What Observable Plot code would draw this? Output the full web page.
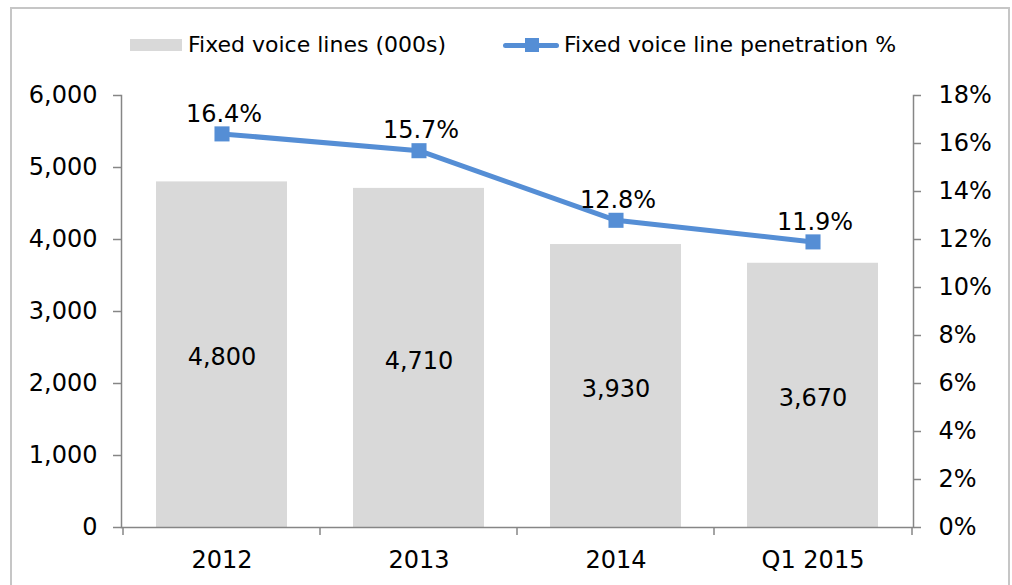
<!DOCTYPE html>
<html>
<head>
<meta charset="utf-8">
<script src="https://cdn.jsdelivr.net/npm/d3@7"></script>
<script src="https://cdn.jsdelivr.net/npm/@observablehq/plot@0.6"></script>
<style>
  html, body { margin: 0; padding: 0; background: #fff; }
  #wrap { position: relative; width: 1012px; height: 585px; overflow: hidden; font-family: "DejaVu Sans", Verdana, sans-serif; color: #000; }
  #border { position: absolute; left: 10px; top: 7px; width: 1000px; height: 600px; border: 2px solid #c6c6c6; box-sizing: border-box; }
  #legend { position: relative; height: 90px; font-size: 22px; }
  .lg-text { position: absolute; top: 32px; line-height: 26px; white-space: nowrap; }
  #chart { position: relative; }
  #chart svg { display: block; }
</style>
</head>
<body>
<div id="wrap">
  <div id="border"></div>
  <div id="legend">
    <div style="position:absolute;left:130px;top:39px;width:52px;height:12px;background:#d9d9d9"></div>
    <div class="lg-text" style="left:188px">Fixed voice lines (000s)</div>
    <div style="position:absolute;left:503px;top:42.5px;width:56px;height:5px;background:#558ED5;border-radius:2.5px"></div>
    <div style="position:absolute;left:525px;top:38px;width:14px;height:14px;background:#558ED5"></div>
    <div class="lg-text" style="left:564px">Fixed voice line penetration %</div>
  </div>
  <div id="chart"></div>
</div>
<script>
const categories = ["2012", "2013", "2014", "Q1 2015"];
const fixedLines = [4800, 4710, 3930, 3670];
const penetration = [16.4, 15.7, 12.8, 11.9];
const leftTicks = [0, 1000, 2000, 3000, 4000, 5000, 6000];
const rightTicks = [0, 2, 4, 6, 8, 10, 12, 14, 16, 18];

const yMax = 6000, pMax = 18;
const k = yMax / pMax;
const data = categories.map((c, i) => ({cat: c, lines: fixedLines[i], pct: penetration[i]}));

const W = 1012, mL = 121, mR = 99;
const half = (W - mL - mR) / categories.length / 2;
const axisColor = "#868686";
const blue = "#558ED5";
const fs = 24;

const chart = Plot.plot({
  width: W,
  height: 495,
  marginTop: 5,
  marginBottom: 58,
  marginLeft: mL,
  marginRight: mR,
  style: {fontFamily: "'DejaVu Sans', Verdana, sans-serif", fontSize: fs + "px", color: "#000", background: "transparent", overflow: "visible"},
  x: {domain: categories, paddingInner: 0.333, paddingOuter: 0.1667, axis: null},
  y: {domain: [0, yMax], axis: null},
  marks: [
    Plot.barY(data, {x: "cat", y: "lines", fill: "#d9d9d9"}),
    Plot.text(data, {x: "cat", y: d => d.lines / 2, text: d => d3.format(",")(d.lines), dy: 3, fontSize: fs, fill: "#000"}),
    Plot.ruleY([0], {stroke: axisColor, strokeWidth: 1.5}),
    Plot.frame({anchor: "left", stroke: axisColor, strokeWidth: 1.5}),
    Plot.frame({anchor: "right", stroke: axisColor, strokeWidth: 1.5}),
    Plot.axisY({anchor: "left", ticks: leftTicks, tickSize: 8, tickPadding: 16, tickFormat: d3.format(","), stroke: axisColor, strokeWidth: 1.5, fill: "#000", fontSize: fs, label: null}),
    Plot.axisY({anchor: "right", ticks: rightTicks.map(p => p * k), tickSize: 7, tickPadding: 18, tickFormat: d => Math.round(d / k) + "%", stroke: axisColor, strokeWidth: 1.5, fill: "#000", fontSize: fs, label: null}),
    Plot.axisX({ticks: categories, tickSize: 8, tickFormat: () => "", dx: -half, stroke: axisColor, strokeWidth: 1.5, label: null}),
    Plot.axisX({ticks: [categories[categories.length - 1]], tickSize: 8, tickFormat: () => "", dx: half, stroke: axisColor, strokeWidth: 1.5, label: null}),
    Plot.axisX({ticks: categories, tickSize: 0, tickPadding: 23, fill: "#000", fontSize: fs, label: null}),
    Plot.lineY(data, {x: "cat", y: d => d.pct * k, stroke: blue, strokeWidth: 5}),
    Plot.dot(data, {x: "cat", y: d => d.pct * k, symbol: "square", r: 8.5, fill: blue, stroke: "none"}),
    Plot.text(data, {x: "cat", y: d => d.pct * k, text: d => d.pct.toFixed(1) + "%", dy: -20, dx: 2, fontSize: fs, fill: "#000"})
  ]
});
document.getElementById("chart").appendChild(chart);
</script>
</body>
</html>
